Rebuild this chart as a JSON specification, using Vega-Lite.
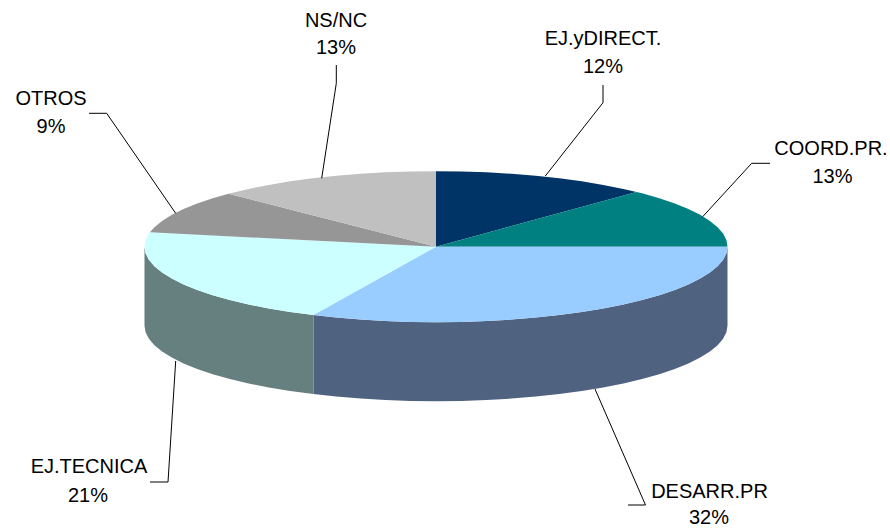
{"$schema":"https://vega.github.io/schema/vega-lite/v6.json","width":890,"height":530,"autosize":{"type":"fit","contains":"padding"},"padding":0,"background":"white","config":{"view":{"stroke":null}},
"datasets":{
"side":[
{"s":"DESARR.PR","x":291.5,"y":0,"y2":-79},{"s":"DESARR.PR","x":290.4,"y":-6.6,"y2":-85.6},{"s":"DESARR.PR","x":287.1,"y":-13.1,"y2":-92.1},{"s":"DESARR.PR","x":281.6,"y":-19.5,"y2":-98.5},{"s":"DESARR.PR","x":273.9,"y":-25.8,"y2":-104.8},{"s":"DESARR.PR","x":264.2,"y":-31.9,"y2":-110.9},{"s":"DESARR.PR","x":252.4,"y":-37.8,"y2":-116.8},{"s":"DESARR.PR","x":238.8,"y":-43.3,"y2":-122.3},{"s":"DESARR.PR","x":223.3,"y":-48.5,"y2":-127.5},{"s":"DESARR.PR","x":206.1,"y":-53.4,"y2":-132.4},{"s":"DESARR.PR","x":187.4,"y":-57.8,"y2":-136.8},{"s":"DESARR.PR","x":167.2,"y":-61.8,"y2":-140.8},{"s":"DESARR.PR","x":145.8,"y":-65.4,"y2":-144.4},{"s":"DESARR.PR","x":123.2,"y":-68.4,"y2":-147.4},{"s":"DESARR.PR","x":99.7,"y":-70.9,"y2":-149.9},{"s":"DESARR.PR","x":75.4,"y":-72.9,"y2":-151.9},{"s":"DESARR.PR","x":50.6,"y":-74.4,"y2":-153.4},{"s":"DESARR.PR","x":25.4,"y":-75.2,"y2":-154.2},{"s":"DESARR.PR","x":0,"y":-75.5,"y2":-154.5},{"s":"DESARR.PR","x":-25.4,"y":-75.2,"y2":-154.2},{"s":"DESARR.PR","x":-50.6,"y":-74.4,"y2":-153.4},{"s":"DESARR.PR","x":-75.4,"y":-72.9,"y2":-151.9},{"s":"DESARR.PR","x":-99.7,"y":-70.9,"y2":-149.9},{"s":"DESARR.PR","x":-122.6,"y":-68.4,"y2":-147.4},
{"s":"EJ.TECNICA","x":-122.6,"y":-68.4,"y2":-147.4},{"s":"EJ.TECNICA","x":-145.8,"y":-65.4,"y2":-144.4},{"s":"EJ.TECNICA","x":-167.2,"y":-61.8,"y2":-140.8},{"s":"EJ.TECNICA","x":-187.4,"y":-57.8,"y2":-136.8},{"s":"EJ.TECNICA","x":-206.1,"y":-53.4,"y2":-132.4},{"s":"EJ.TECNICA","x":-223.3,"y":-48.5,"y2":-127.5},{"s":"EJ.TECNICA","x":-238.8,"y":-43.3,"y2":-122.3},{"s":"EJ.TECNICA","x":-252.4,"y":-37.8,"y2":-116.8},{"s":"EJ.TECNICA","x":-264.2,"y":-31.9,"y2":-110.9},{"s":"EJ.TECNICA","x":-273.9,"y":-25.8,"y2":-104.8},{"s":"EJ.TECNICA","x":-281.6,"y":-19.5,"y2":-98.5},{"s":"EJ.TECNICA","x":-287.1,"y":-13.1,"y2":-92.1},{"s":"EJ.TECNICA","x":-290.4,"y":-6.6,"y2":-85.6},{"s":"EJ.TECNICA","x":-291.5,"y":0,"y2":-79}
],
"top":[
{"s":"EJ.yDIRECT.","i":0,"x":0,"y":0},{"s":"EJ.yDIRECT.","i":1,"x":0,"y":75.5},{"s":"EJ.yDIRECT.","i":2,"x":25.4,"y":75.2},{"s":"EJ.yDIRECT.","i":3,"x":50.6,"y":74.4},{"s":"EJ.yDIRECT.","i":4,"x":75.4,"y":72.9},{"s":"EJ.yDIRECT.","i":5,"x":99.7,"y":70.9},{"s":"EJ.yDIRECT.","i":6,"x":123.2,"y":68.4},{"s":"EJ.yDIRECT.","i":7,"x":145.8,"y":65.4},{"s":"EJ.yDIRECT.","i":8,"x":167.2,"y":61.8},{"s":"EJ.yDIRECT.","i":9,"x":187.4,"y":57.8},{"s":"EJ.yDIRECT.","i":10,"x":200.5,"y":54.6},
{"s":"COORD.PR.","i":0,"x":0,"y":0},{"s":"COORD.PR.","i":1,"x":200.5,"y":54.6},{"s":"COORD.PR.","i":2,"x":206.1,"y":53.4},{"s":"COORD.PR.","i":3,"x":223.3,"y":48.5},{"s":"COORD.PR.","i":4,"x":238.8,"y":43.3},{"s":"COORD.PR.","i":5,"x":252.4,"y":37.8},{"s":"COORD.PR.","i":6,"x":264.2,"y":31.9},{"s":"COORD.PR.","i":7,"x":273.9,"y":25.8},{"s":"COORD.PR.","i":8,"x":281.6,"y":19.5},{"s":"COORD.PR.","i":9,"x":287.1,"y":13.1},{"s":"COORD.PR.","i":10,"x":290.4,"y":6.6},{"s":"COORD.PR.","i":11,"x":291.5,"y":0},
{"s":"DESARR.PR","i":0,"x":0,"y":0},{"s":"DESARR.PR","i":1,"x":291.5,"y":0},{"s":"DESARR.PR","i":2,"x":290.4,"y":-6.6},{"s":"DESARR.PR","i":3,"x":287.1,"y":-13.1},{"s":"DESARR.PR","i":4,"x":281.6,"y":-19.5},{"s":"DESARR.PR","i":5,"x":273.9,"y":-25.8},{"s":"DESARR.PR","i":6,"x":264.2,"y":-31.9},{"s":"DESARR.PR","i":7,"x":252.4,"y":-37.8},{"s":"DESARR.PR","i":8,"x":238.8,"y":-43.3},{"s":"DESARR.PR","i":9,"x":223.3,"y":-48.5},{"s":"DESARR.PR","i":10,"x":206.1,"y":-53.4},{"s":"DESARR.PR","i":11,"x":187.4,"y":-57.8},{"s":"DESARR.PR","i":12,"x":167.2,"y":-61.8},{"s":"DESARR.PR","i":13,"x":145.8,"y":-65.4},{"s":"DESARR.PR","i":14,"x":123.2,"y":-68.4},{"s":"DESARR.PR","i":15,"x":99.7,"y":-70.9},{"s":"DESARR.PR","i":16,"x":75.4,"y":-72.9},{"s":"DESARR.PR","i":17,"x":50.6,"y":-74.4},{"s":"DESARR.PR","i":18,"x":25.4,"y":-75.2},{"s":"DESARR.PR","i":19,"x":0,"y":-75.5},{"s":"DESARR.PR","i":20,"x":-25.4,"y":-75.2},{"s":"DESARR.PR","i":21,"x":-50.6,"y":-74.4},{"s":"DESARR.PR","i":22,"x":-75.4,"y":-72.9},{"s":"DESARR.PR","i":23,"x":-99.7,"y":-70.9},{"s":"DESARR.PR","i":24,"x":-122.6,"y":-68.4},
{"s":"EJ.TECNICA","i":0,"x":0,"y":0},{"s":"EJ.TECNICA","i":1,"x":-122.6,"y":-68.4},{"s":"EJ.TECNICA","i":2,"x":-145.8,"y":-65.4},{"s":"EJ.TECNICA","i":3,"x":-167.2,"y":-61.8},{"s":"EJ.TECNICA","i":4,"x":-187.4,"y":-57.8},{"s":"EJ.TECNICA","i":5,"x":-206.1,"y":-53.4},{"s":"EJ.TECNICA","i":6,"x":-223.3,"y":-48.5},{"s":"EJ.TECNICA","i":7,"x":-238.8,"y":-43.3},{"s":"EJ.TECNICA","i":8,"x":-252.4,"y":-37.8},{"s":"EJ.TECNICA","i":9,"x":-264.2,"y":-31.9},{"s":"EJ.TECNICA","i":10,"x":-273.9,"y":-25.8},{"s":"EJ.TECNICA","i":11,"x":-281.6,"y":-19.5},{"s":"EJ.TECNICA","i":12,"x":-287.1,"y":-13.1},{"s":"EJ.TECNICA","i":13,"x":-290.4,"y":-6.6},{"s":"EJ.TECNICA","i":14,"x":-291.5,"y":0},{"s":"EJ.TECNICA","i":15,"x":-290.4,"y":6.6},{"s":"EJ.TECNICA","i":16,"x":-287.1,"y":13.1},{"s":"EJ.TECNICA","i":17,"x":-286.1,"y":14.4},
{"s":"OTROS","i":0,"x":0,"y":0},{"s":"OTROS","i":1,"x":-286.1,"y":14.4},{"s":"OTROS","i":2,"x":-281.6,"y":19.5},{"s":"OTROS","i":3,"x":-273.9,"y":25.8},{"s":"OTROS","i":4,"x":-264.2,"y":31.9},{"s":"OTROS","i":5,"x":-252.4,"y":37.8},{"s":"OTROS","i":6,"x":-238.8,"y":43.3},{"s":"OTROS","i":7,"x":-223.3,"y":48.5},{"s":"OTROS","i":8,"x":-207.5,"y":52.9},
{"s":"NS/NC","i":0,"x":0,"y":0},{"s":"NS/NC","i":1,"x":-207.5,"y":52.9},{"s":"NS/NC","i":2,"x":-187.4,"y":57.8},{"s":"NS/NC","i":3,"x":-167.2,"y":61.8},{"s":"NS/NC","i":4,"x":-145.8,"y":65.4},{"s":"NS/NC","i":5,"x":-123.2,"y":68.4},{"s":"NS/NC","i":6,"x":-99.7,"y":70.9},{"s":"NS/NC","i":7,"x":-75.4,"y":72.9},{"s":"NS/NC","i":8,"x":-50.6,"y":74.4},{"s":"NS/NC","i":9,"x":-25.4,"y":75.2},{"s":"NS/NC","i":10,"x":0,"y":75.5}
],
"leaders":[
{"s":"EJ.yDIRECT.","i":0,"x":167,"y":161.7},{"s":"EJ.yDIRECT.","i":1,"x":167,"y":144},{"s":"EJ.yDIRECT.","i":2,"x":109.3,"y":70.7},
{"s":"COORD.PR.","i":0,"x":334,"y":83.4},{"s":"COORD.PR.","i":1,"x":315.7,"y":83.4},{"s":"COORD.PR.","i":2,"x":266.7,"y":30},
{"s":"NS/NC","i":0,"x":-99.7,"y":181.7},{"s":"NS/NC","i":1,"x":-99.7,"y":163.4},{"s":"NS/NC","i":2,"x":-114.3,"y":68.4},
{"s":"OTROS","i":0,"x":-347,"y":133.4},{"s":"OTROS","i":1,"x":-329.3,"y":133.4},{"s":"OTROS","i":2,"x":-260.3,"y":33.4},
{"s":"EJ.TECNICA","i":0,"x":-286,"y":-235.3},{"s":"EJ.TECNICA","i":1,"x":-268,"y":-235.3},{"s":"EJ.TECNICA","i":2,"x":-260.3,"y":-114.3},
{"s":"DESARR.PR","i":0,"x":192,"y":-258.3},{"s":"DESARR.PR","i":1,"x":209.5,"y":-258.3},{"s":"DESARR.PR","i":2,"x":159,"y":-142.3}
],
"labels":[
{"t":"NS/NC","x":-100,"y":219.7},{"t":"13%","x":-100,"y":192.7},
{"t":"EJ.yDIRECT.","x":167,"y":201.7},{"t":"12%","x":167,"y":173.7},
{"t":"COORD.PR.","x":395,"y":91.7},{"t":"13%","x":396.5,"y":63.7},
{"t":"OTROS","x":-385,"y":141.7},{"t":"9%","x":-385,"y":113.7},
{"t":"EJ.TECNICA","x":-347,"y":-226},{"t":"21%","x":-348,"y":-255},
{"t":"DESARR.PR","x":273.5,"y":-251},{"t":"32%","x":273,"y":-277.6}
]},
"layer":[
{"data":{"name":"side"},"mark":{"type":"area","stroke":null},"encoding":{
"x":{"field":"x","type":"quantitative","scale":{"domain":[-436,454],"nice":false,"zero":false},"axis":null},
"y":{"field":"y","type":"quantitative","scale":{"domain":[-283.3,246.7],"nice":false,"zero":false},"axis":null},
"y2":{"field":"y2"},
"fill":{"field":"s","type":"nominal","legend":null,"scale":{"domain":["DESARR.PR","EJ.TECNICA"],"range":["#4F6380","#667F7F"]}}}},
{"data":{"name":"top"},"mark":{"type":"line","strokeWidth":0,"interpolate":"linear"},"encoding":{
"x":{"field":"x","type":"quantitative","axis":null},
"y":{"field":"y","type":"quantitative","axis":null},
"order":{"field":"i","type":"quantitative"},
"fill":{"field":"s","type":"nominal","legend":null,"scale":{"domain":["EJ.yDIRECT.","COORD.PR.","DESARR.PR","EJ.TECNICA","OTROS","NS/NC"],"range":["#003366","#008080","#99CCFF","#CCFFFF","#969696","#C0C0C0"]}}}},
{"data":{"name":"leaders"},"mark":{"type":"line","color":"#000000","strokeWidth":1,"interpolate":"linear"},"encoding":{
"x":{"field":"x","type":"quantitative","axis":null},
"y":{"field":"y","type":"quantitative","axis":null},
"order":{"field":"i","type":"quantitative"},
"detail":{"field":"s","type":"nominal"}}},
{"data":{"name":"labels"},"mark":{"type":"text","font":"Liberation Sans","fontSize":20,"align":"center","baseline":"alphabetic","color":"#000000"},"encoding":{
"x":{"field":"x","type":"quantitative","axis":null},
"y":{"field":"y","type":"quantitative","axis":null},
"text":{"field":"t","type":"nominal"}}}
],
"resolve":{"scale":{"fill":"independent"}}}
